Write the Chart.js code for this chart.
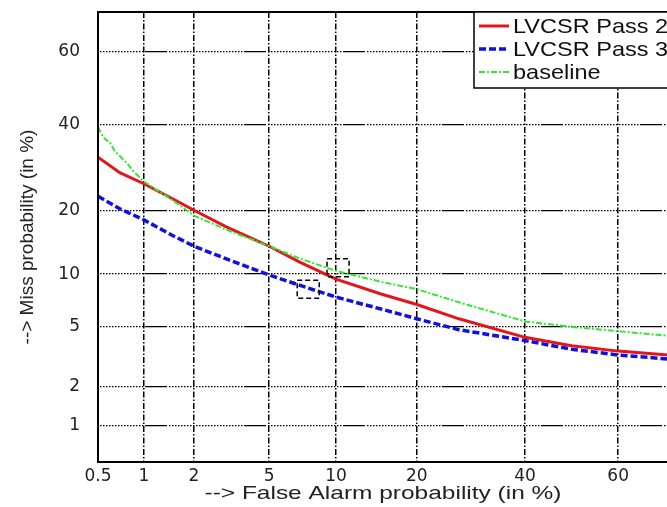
<!DOCTYPE html>
<html>
<head>
<meta charset="utf-8">
<script src="https://cdn.jsdelivr.net/npm/chart.js@4.4.1/dist/chart.umd.min.js"></script>
<style>
  html, body { margin: 0; padding: 0; background: #fff; overflow: hidden; }
  #wrap { width: 667px; height: 507px; overflow: hidden; }
</style>
</head>
<body>
<div id="wrap"><canvas id="det" width="670" height="507"></canvas></div>
<script>
// tick labels (percent)
const xTickLabels = [0.5, 1, 2, 5, 10, 20, 40, 60];
const yTickLabels = [1, 2, 5, 10, 20, 40, 60];

// LVCSR Pass 2 / Pass 3 share the same false alarm points
const passFA = [0.5, 0.7, 1, 1.5, 2, 3, 5, 7, 10, 15, 20, 27, 40, 50, 60, 70];
const pass2Miss = [31.7, 28, 25.5, 22.3, 20, 17, 13.8, 11.5, 9.4, 7.8, 6.8, 5.6, 4.3, 3.8, 3.5, 3.3];
const pass3Miss = [22.8, 20.3, 18.2, 15.5, 13.8, 12, 9.9, 8.7, 7.5, 6.4, 5.6, 4.8, 4.1, 3.6, 3.3, 3.1];

const baseFA = [0.5, 0.53, 0.56, 0.6, 0.65, 0.7, 0.79, 0.85, 1, 1.5, 2, 3, 5, 7, 10, 15, 20, 27, 40, 50, 60, 70];
const baseMiss = [39.4, 37.5, 36.2, 35.5, 33.1, 32, 30, 28.5, 26, 22, 19, 16.5, 13.8, 12, 10.4, 9.1, 8.3, 7.0, 5.4, 5.0, 4.7, 4.4];

// min cost operating points (dashed squares)
const markerFA = [10.2, 7.6];
const markerMiss = [10.8, 8.3];

// inverse normal cdf (Acklam) -> DET axis
function probit(p) {
    const a = [-3.969683028665376e+01, 2.209460984245205e+02, -2.759285104469687e+02, 1.383577518672690e+02, -3.066479806614716e+01, 2.506628277459239e+00];
    const b = [-5.447609879822406e+01, 1.615858368580409e+02, -1.556989798598866e+02, 6.680131188771972e+01, -1.328068155288572e+01];
    const c = [-7.784894002430293e-03, -3.223964580411365e-01, -2.400758277161838e+00, -2.549732539343734e+00, 4.374664141464968e+00, 2.938163982698783e+00];
    const d = [7.784695709041462e-03, 3.224671290700398e-01, 2.445134137142996e+00, 3.754408661907416e+00];
    const plow = 0.02425;
    let q, r;
    if (p < plow) {
        q = Math.sqrt(-2 * Math.log(p));
        return (((((c[0]*q+c[1])*q+c[2])*q+c[3])*q+c[4])*q+c[5]) / ((((d[0]*q+d[1])*q+d[2])*q+d[3])*q+1);
    }
    if (p > 1 - plow) {
        q = Math.sqrt(-2 * Math.log(1 - p));
        return -(((((c[0]*q+c[1])*q+c[2])*q+c[3])*q+c[4])*q+c[5]) / ((((d[0]*q+d[1])*q+d[2])*q+d[3])*q+1);
    }
    q = p - 0.5; r = q * q;
    return (((((a[0]*r+a[1])*r+a[2])*r+a[3])*r+a[4])*r+a[5])*q / (((((b[0]*r+b[1])*r+b[2])*r+b[3])*r+b[4])*r+1);
}

function toPoints(fa, miss) {
    return fa.map((v, i) => ({ x: probit(v / 100), y: probit(miss[i] / 100) }));
}

// horizontal grid: dotted with one long dash every ~100px
const hDash = [22, 2];
for (let i = 0; i < 25; i++) hDash.push(1.5, 1.5);

const tickFont = { family: 'DejaVu Sans', size: 17 };

// stretched text, like the (widened) original figure
function wideText(ctx, text, x, y, sx) {
    ctx.save();
    ctx.translate(x, y);
    ctx.scale(sx, 1);
    ctx.fillText(text, 0, 0);
    ctx.restore();
}

// plot frame, markers, legend and axis titles
const decorPlugin = {
    id: 'decor',
    afterDatasetsDraw(chart) {
        const { ctx, chartArea: ca, scales } = chart;
        ctx.save();
        // markers
        ctx.strokeStyle = '#000';
        ctx.lineWidth = 1.5;
        ctx.setLineDash([5, 3]);
        markerFA.forEach((fa, i) => {
            const px = scales.x.getPixelForValue(probit(fa / 100));
            const py = scales.y.getPixelForValue(probit(markerMiss[i] / 100));
            ctx.strokeRect(px - 11, py - 9, 22, 18);
        });
        ctx.setLineDash([]);
        // frame
        ctx.lineWidth = 2;
        ctx.strokeRect(ca.left, ca.top, ca.right - ca.left, ca.bottom - ca.top);
        // legend
        const lx = 474, ly = ca.top, lh = 76;
        ctx.fillStyle = '#fff';
        ctx.fillRect(lx, ly, ca.right - lx, lh);
        ctx.lineWidth = 1.5;
        ctx.strokeRect(lx, ly, ca.right - lx, lh);
        ctx.font = '21px "Liberation Sans"';
        ctx.textBaseline = 'middle';
        chart.data.datasets.forEach((ds, i) => {
            const y = ly + 14 + i * 23;
            ctx.strokeStyle = ds.borderColor;
            ctx.lineWidth = ds.borderWidth;
            ctx.setLineDash(ds.borderDash || []);
            ctx.beginPath();
            ctx.moveTo(479, y);
            ctx.lineTo(509, y);
            ctx.stroke();
            ctx.setLineDash([]);
            ctx.fillStyle = '#111';
            wideText(ctx, ds.label, 513, y + 1, 1.12);
        });
        // axis titles
        ctx.fillStyle = '#222';
        ctx.textAlign = 'center';
        ctx.font = '19px "Liberation Sans"';
        const xTitle = '--> False Alarm probability (in %)';
        wideText(ctx, xTitle, (ca.left + ca.right) / 2, 494, 357 / ctx.measureText(xTitle).width);
        ctx.translate(28, (ca.top + ca.bottom) / 2);
        ctx.rotate(-Math.PI / 2);
        ctx.font = '19px "Liberation Sans"';
        ctx.fillText('--> Miss probability (in %)', 0, 0);
        ctx.restore();
    }
};

const chart = new Chart(document.getElementById('det'), {
    type: 'line',
    data: {
        datasets: [
            {
                label: 'LVCSR Pass 2',
                data: toPoints(passFA, pass2Miss),
                borderColor: '#e3161b',
                borderWidth: 3,
                order: 1
            },
            {
                label: 'LVCSR Pass 3',
                data: toPoints(passFA, pass3Miss),
                borderColor: '#1010e0',
                borderWidth: 3.5,
                borderDash: [7, 3],
                order: 2
            },
            {
                label: 'baseline',
                data: toPoints(baseFA, baseMiss),
                borderColor: '#33e833',
                borderWidth: 2,
                borderDash: [6, 2, 2, 2],
                order: 0
            }
        ]
    },
    options: {
        responsive: false,
        animation: false,
        devicePixelRatio: 1,
        layout: { padding: { top: 12, right: 2, left: 0, bottom: 0 } },
        elements: { point: { radius: 0 }, line: { tension: 0 } },
        plugins: { legend: { display: false }, tooltip: { enabled: false } },
        scales: {
            x: {
                type: 'linear',
                min: probit(0.005),
                max: probit(0.70),
                afterBuildTicks: (s) => { s.ticks = xTickLabels.map(v => ({ value: probit(v / 100) })); },
                afterFit: (s) => { s.height = 45; s.paddingLeft = 0; s.paddingRight = 0; },
                ticks: {
                    autoSkip: false,
                    maxRotation: 0,
                    padding: 4,
                    color: '#222',
                    font: tickFont,
                    callback: (v, i) => xTickLabels[i]
                },
                grid: { color: '#000', lineWidth: 1.5, drawTicks: false },
                border: { display: true, color: '#000', width: 2, dash: [6, 2, 1.5, 2] }
            },
            y: {
                type: 'linear',
                min: probit(0.005),
                max: probit(0.70),
                afterBuildTicks: (s) => { s.ticks = yTickLabels.map(v => ({ value: probit(v / 100) })); },
                afterFit: (s) => { s.width = 98; s.paddingTop = 0; s.paddingBottom = 0; },
                ticks: {
                    autoSkip: false,
                    padding: 18,
                    color: '#222',
                    font: tickFont,
                    callback: (v, i) => yTickLabels[i]
                },
                grid: { color: '#000', lineWidth: 1.3, drawTicks: false },
                border: { display: true, color: '#000', width: 2, dash: hDash, dashOffset: 53 }
            }
        }
    },
    plugins: [decorPlugin]
});
</script>
</body>
</html>
